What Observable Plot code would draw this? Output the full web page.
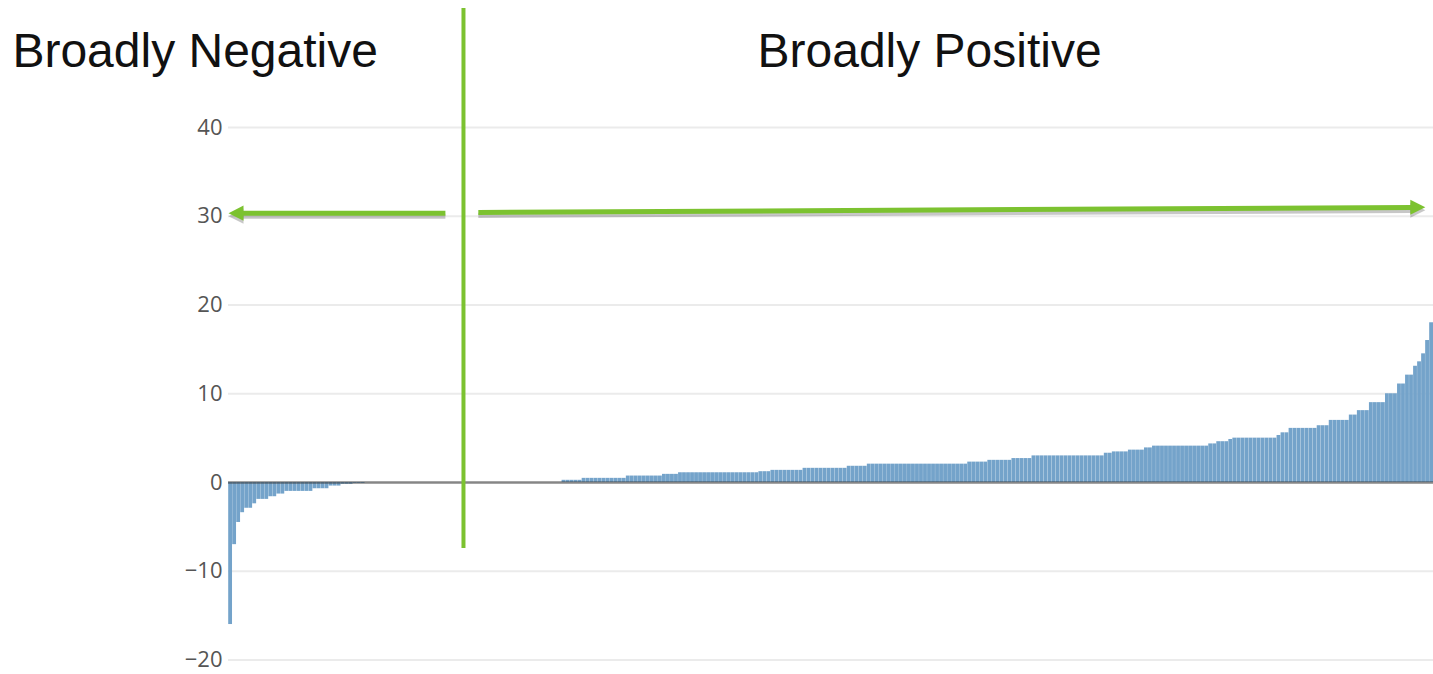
<!DOCTYPE html>
<html><head><meta charset="utf-8">
<script src="https://cdn.jsdelivr.net/npm/d3@7"></script>
<script src="https://cdn.jsdelivr.net/npm/@observablehq/plot@0.6"></script>
<style>html,body{margin:0;padding:0;background:#fff;} #chart svg{display:block;}</style>
</head><body><div id="chart"></div>
<script>
// ---- data (sorted values, one per bar) ----
const values = [
  -16, -7, -4.5, -3.4, -2.9, -2.9, -2.4, -1.9, -1.9, -1.9,
  -1.6, -1.6, -1.3, -1.3, -1, -1, -1, -1, -1, -1,
  -1, -0.7, -0.7, -0.7, -0.7, -0.4, -0.4, -0.4, -0.2, -0.2,
  -0.2, -0.1, -0.1, -0.1,
  0, 0, 0, 0, 0, 0, 0, 0, 0, 0,
  0, 0, 0, 0, 0, 0, 0, 0, 0, 0,
  0, 0, 0, 0, 0, 0, 0, 0, 0, 0,
  0, 0, 0, 0, 0, 0, 0, 0, 0, 0,
  0, 0, 0, 0, 0, 0, 0, 0, 0,
  0.25, 0.25, 0.25, 0.25, 0.25,
  0.47, 0.47, 0.47, 0.47, 0.47, 0.47, 0.47, 0.47, 0.47, 0.47, 0.47,
  0.73, 0.73, 0.73, 0.73, 0.73, 0.73, 0.73, 0.73, 0.73,
  0.92, 0.92, 0.92, 0.92,
  1.1, 1.1, 1.1, 1.1, 1.1, 1.1, 1.1, 1.1, 1.1, 1.1,
  1.1, 1.1, 1.1, 1.1, 1.1, 1.1, 1.1, 1.1, 1.1, 1.1,
  1.22, 1.22, 1.22,
  1.37, 1.37, 1.37, 1.37, 1.37, 1.37, 1.37, 1.37,
  1.6, 1.6, 1.6, 1.6, 1.6, 1.6, 1.6, 1.6, 1.6, 1.6, 1.6,
  1.83, 1.83, 1.83, 1.83, 1.83,
  2.07, 2.07, 2.07, 2.07, 2.07, 2.07, 2.07, 2.07, 2.07, 2.07,
  2.07, 2.07, 2.07, 2.07, 2.07, 2.07, 2.07, 2.07, 2.07, 2.07,
  2.07, 2.07, 2.07, 2.07, 2.07,
  2.3, 2.3, 2.3, 2.3, 2.3,
  2.5, 2.5, 2.5, 2.5, 2.5, 2.5,
  2.7, 2.7, 2.7, 2.7, 2.7,
  3, 3, 3, 3, 3, 3, 3, 3, 3, 3, 3, 3, 3, 3, 3, 3, 3, 3,
  3.3, 3.3,
  3.45, 3.45, 3.45, 3.45,
  3.65, 3.65, 3.65, 3.65,
  3.9, 3.9,
  4.1, 4.1, 4.1, 4.1, 4.1, 4.1, 4.1, 4.1, 4.1, 4.1, 4.1, 4.1, 4.1, 4.1,
  4.35, 4.35,
  4.6, 4.6, 4.6,
  4.85,
  5, 5, 5, 5, 5, 5, 5, 5, 5, 5, 5,
  5.3,
  5.6, 5.6,
  6.1, 6.1, 6.1, 6.1, 6.1, 6.1, 6.1,
  6.4, 6.4, 6.4,
  7, 7, 7, 7, 7,
  7.6, 7.6,
  8.1, 8.1, 8.1,
  9, 9, 9, 9,
  10, 10, 10,
  11.1, 11.1,
  12.1, 12.1,
  13.1, 13.6, 14.5, 16, 18
];
const yTicks = [-20, -10, 0, 10, 20, 30, 40];
const sideLabels = ["Broadly Negative", "Broadly Positive"];

const bars = values.map((v, i) => ({i, v}));

// ---- annotation anchors, in data units (bar index, value) ----
const dividerData = [{x: 58.5, y1: -7.44, y2: 53.4}];
const labelData = [
  {text: sideLabels[0], x: -53.8, y: 48.6},
  {text: sideLabels[1], x: 131.7, y: 48.6}
];
const arrowLines = [
  {x1: 3.0, y1: 30.35, x2: 54.0, y2: 30.35},
  {x1: 62.2, y1: 30.42, x2: 294.6, y2: 31.0}
];
const headLeft = [{x: 1.87, y: 30.35}];
const headRight = [{x: 296.1, y: 31.02}];

const triLeft = {draw(ctx, size) { const s = Math.sqrt(size), L = s * 1.41, W = s * 0.71;
  ctx.moveTo(-L / 2, 0); ctx.lineTo(L / 2, -W); ctx.lineTo(L / 2, W); ctx.closePath(); }};
const triRight = {draw(ctx, size) { const s = Math.sqrt(size), L = s * 1.41, W = s * 0.71;
  ctx.moveTo(L / 2, 0); ctx.lineTo(-L / 2, -W); ctx.lineTo(-L / 2, W); ctx.closePath(); }};

const green = "#7cc230";

const chart = Plot.plot({
  width: 1433,
  height: 674,
  marginLeft: 228,
  marginRight: 0,
  marginTop: 0,
  marginBottom: 0,
  style: {fontFamily: "'Open Sans', sans-serif", fontSize: "22px", color: "#555", background: "#fff", overflow: "visible"},
  x: {domain: [0, values.length], axis: null},
  y: {domain: [-21.63, 54.31], axis: null},
  marks: [
    Plot.ruleY(yTicks, {stroke: "#ebebeb", strokeWidth: 2}),
    Plot.rect(bars, {x1: d => d.i, x2: d => d.i + 1, y1: () => 0, y2: "v", fill: "#74a3ca", insetLeft: 0.2}),
    Plot.ruleY([0], {stroke: "#333", strokeOpacity: 0.55, strokeWidth: 2.5}),
    Plot.axisY(yTicks, {tickSize: 0, tickPadding: 6, label: null, fontSize: 22}),
    // arrow shadows
    Plot.link(arrowLines, {x1: "x1", y1: "y1", x2: "x2", y2: "y2", stroke: "#000", strokeOpacity: 0.22, strokeWidth: 5, dy: 3, ariaLabel: "shadow"}),
    Plot.dot(headLeft, {x: "x", y: "y", symbol: triLeft, r: 6, fill: "#000", fillOpacity: 0.22, stroke: null, dy: 3, ariaLabel: "shadow"}),
    Plot.dot(headRight, {x: "x", y: "y", symbol: triRight, r: 6, fill: "#000", fillOpacity: 0.22, stroke: null, dy: 3, ariaLabel: "shadow"}),
    // arrows
    Plot.link(arrowLines, {x1: "x1", y1: "y1", x2: "x2", y2: "y2", stroke: green, strokeWidth: 5}),
    Plot.dot(headLeft, {x: "x", y: "y", symbol: triLeft, r: 6, fill: green, stroke: null}),
    Plot.dot(headRight, {x: "x", y: "y", symbol: triRight, r: 6, fill: green, stroke: null}),
    // divider
    Plot.ruleX(dividerData, {x: "x", y1: "y1", y2: "y2", stroke: green, strokeWidth: 4}),
    // labels
    Plot.text(labelData, {x: "x", y: "y", text: "text", textAnchor: "start", fontSize: 48,
      fontFamily: "Arial, 'Liberation Sans', sans-serif", fill: "#111"})
  ]
});
document.getElementById("chart").appendChild(chart);

const svg = d3.select(chart);
const defs = svg.insert("defs", ":first-child");
defs.append("filter").attr("id", "soft").attr("filterUnits", "userSpaceOnUse")
  .attr("x", 0).attr("y", 0).attr("width", 1433).attr("height", 674)
  .append("feGaussianBlur").attr("stdDeviation", 2.5);
svg.selectAll('g[aria-label="shadow"]').attr("filter", "url(#soft)");
</script>
</body></html>
